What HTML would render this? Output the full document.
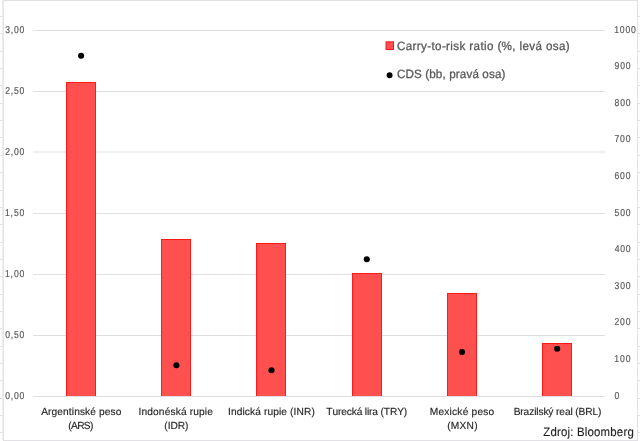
<!DOCTYPE html>
<html><head><meta charset="utf-8"><title>Carry-to-risk ratio</title>
<style>html,body{margin:0;padding:0;background:#fff;width:640px;height:441px;overflow:hidden}svg{display:block;will-change:transform;text-rendering:geometricPrecision}</style>
</head><body>
<svg width="640" height="441" viewBox="0 0 640 441">
<rect width="640" height="441" fill="#fff"/>
<rect x="0" y="16" width="2" height="1" fill="#e2dfe5"/>
<rect x="638" y="16" width="2" height="1" fill="#e2dfe5"/>
<rect x="0" y="33" width="2" height="1" fill="#e2dfe5"/>
<rect x="638" y="33" width="2" height="1" fill="#e2dfe5"/>
<rect x="0" y="51" width="2" height="1" fill="#e2dfe5"/>
<rect x="638" y="51" width="2" height="1" fill="#e2dfe5"/>
<rect x="0" y="68" width="2" height="1" fill="#e2dfe5"/>
<rect x="638" y="68" width="2" height="1" fill="#e2dfe5"/>
<rect x="0" y="85" width="2" height="1" fill="#e2dfe5"/>
<rect x="638" y="85" width="2" height="1" fill="#e2dfe5"/>
<rect x="0" y="103" width="2" height="1" fill="#e2dfe5"/>
<rect x="638" y="103" width="2" height="1" fill="#e2dfe5"/>
<rect x="0" y="120" width="2" height="1" fill="#e2dfe5"/>
<rect x="638" y="120" width="2" height="1" fill="#e2dfe5"/>
<rect x="0" y="137" width="2" height="1" fill="#e2dfe5"/>
<rect x="638" y="137" width="2" height="1" fill="#e2dfe5"/>
<rect x="0" y="155" width="2" height="1" fill="#e2dfe5"/>
<rect x="638" y="155" width="2" height="1" fill="#e2dfe5"/>
<rect x="0" y="172" width="2" height="1" fill="#e2dfe5"/>
<rect x="638" y="172" width="2" height="1" fill="#e2dfe5"/>
<rect x="0" y="190" width="2" height="1" fill="#e2dfe5"/>
<rect x="638" y="190" width="2" height="1" fill="#e2dfe5"/>
<rect x="0" y="207" width="2" height="1" fill="#e2dfe5"/>
<rect x="638" y="207" width="2" height="1" fill="#e2dfe5"/>
<rect x="0" y="224" width="2" height="1" fill="#e2dfe5"/>
<rect x="638" y="224" width="2" height="1" fill="#e2dfe5"/>
<rect x="0" y="242" width="2" height="1" fill="#e2dfe5"/>
<rect x="638" y="242" width="2" height="1" fill="#e2dfe5"/>
<rect x="0" y="259" width="2" height="1" fill="#e2dfe5"/>
<rect x="638" y="259" width="2" height="1" fill="#e2dfe5"/>
<rect x="0" y="276" width="2" height="1" fill="#e2dfe5"/>
<rect x="638" y="276" width="2" height="1" fill="#e2dfe5"/>
<rect x="0" y="294" width="2" height="1" fill="#e2dfe5"/>
<rect x="638" y="294" width="2" height="1" fill="#e2dfe5"/>
<rect x="0" y="311" width="2" height="1" fill="#e2dfe5"/>
<rect x="638" y="311" width="2" height="1" fill="#e2dfe5"/>
<rect x="0" y="328" width="2" height="1" fill="#e2dfe5"/>
<rect x="638" y="328" width="2" height="1" fill="#e2dfe5"/>
<rect x="0" y="346" width="2" height="1" fill="#e2dfe5"/>
<rect x="638" y="346" width="2" height="1" fill="#e2dfe5"/>
<rect x="0" y="363" width="2" height="1" fill="#e2dfe5"/>
<rect x="638" y="363" width="2" height="1" fill="#e2dfe5"/>
<rect x="0" y="380" width="2" height="1" fill="#e2dfe5"/>
<rect x="638" y="380" width="2" height="1" fill="#e2dfe5"/>
<rect x="0" y="398" width="2" height="1" fill="#e2dfe5"/>
<rect x="638" y="398" width="2" height="1" fill="#e2dfe5"/>
<rect x="0" y="415" width="2" height="1" fill="#e2dfe5"/>
<rect x="638" y="415" width="2" height="1" fill="#e2dfe5"/>
<rect x="0" y="432" width="2" height="1" fill="#e2dfe5"/>
<rect x="638" y="432" width="2" height="1" fill="#e2dfe5"/>
<rect x="3" y="0" width="635" height="1" fill="#e2dfe5"/>
<rect x="3" y="440" width="635" height="1" fill="#e2dfe5"/>
<rect x="2" y="0" width="1" height="440" fill="#eeebf0"/>
<rect x="3" y="0" width="1" height="440" fill="#e6e5e8"/>
<rect x="637" y="0" width="1" height="440" fill="#e2dfe5"/>
<rect x="33" y="30" width="572" height="1" fill="#e0dde3"/>
<rect x="33" y="91" width="572" height="1" fill="#e0dde3"/>
<rect x="33" y="151.5" width="572" height="1" fill="#e0dde3"/>
<rect x="33" y="213" width="572" height="1" fill="#e0dde3"/>
<rect x="33" y="274" width="572" height="1" fill="#e0dde3"/>
<rect x="33" y="335" width="572" height="1" fill="#e0dde3"/>
<rect x="33" y="396" width="572" height="1" fill="#e0dde3"/>
<rect x="66" y="82" width="30" height="314" fill="#ff1a1a"/>
<rect x="67" y="83" width="28" height="313" fill="#ff5050"/>
<rect x="161" y="239" width="30" height="157" fill="#ff1a1a"/>
<rect x="162" y="240" width="28" height="156" fill="#ff5050"/>
<rect x="256" y="243" width="30" height="153" fill="#ff1a1a"/>
<rect x="257" y="244" width="28" height="152" fill="#ff5050"/>
<rect x="352" y="273" width="30" height="123" fill="#ff1a1a"/>
<rect x="353" y="274" width="28" height="122" fill="#ff5050"/>
<rect x="447" y="293" width="30" height="103" fill="#ff1a1a"/>
<rect x="448" y="294" width="28" height="102" fill="#ff5050"/>
<rect x="542" y="343" width="30" height="53" fill="#ff1a1a"/>
<rect x="543" y="344" width="28" height="52" fill="#ff5050"/>
<circle cx="81.1" cy="55.8" r="3.05" fill="#000"/>
<circle cx="176.4" cy="365.2" r="3.05" fill="#000"/>
<circle cx="271.5" cy="370.3" r="3.05" fill="#000"/>
<circle cx="366.8" cy="259.3" r="3.05" fill="#000"/>
<circle cx="462.1" cy="352.0" r="3.05" fill="#000"/>
<circle cx="557.2" cy="348.7" r="3.05" fill="#000"/>
<text x="6.13 12.59 16.27 22.74" y="32.70" font-family="Liberation Sans, sans-serif" font-size="10.0" fill="#595959" stroke="#595959" stroke-width="0.2" transform="scale(0.86,1)">3,00</text>
<text x="6.01 12.51 16.23 22.74" y="93.70" font-family="Liberation Sans, sans-serif" font-size="10.0" fill="#595959" stroke="#595959" stroke-width="0.2" transform="scale(0.86,1)">2,50</text>
<text x="6.01 12.51 16.23 22.74" y="154.70" font-family="Liberation Sans, sans-serif" font-size="10.0" fill="#595959" stroke="#595959" stroke-width="0.2" transform="scale(0.86,1)">2,00</text>
<text x="5.75 12.34 16.15 22.74" y="215.70" font-family="Liberation Sans, sans-serif" font-size="10.0" fill="#595959" stroke="#595959" stroke-width="0.2" transform="scale(0.86,1)">1,50</text>
<text x="5.75 12.34 16.15 22.74" y="276.70" font-family="Liberation Sans, sans-serif" font-size="10.0" fill="#595959" stroke="#595959" stroke-width="0.2" transform="scale(0.86,1)">1,00</text>
<text x="6.12 12.59 16.27 22.74" y="337.70" font-family="Liberation Sans, sans-serif" font-size="10.0" fill="#595959" stroke="#595959" stroke-width="0.2" transform="scale(0.86,1)">0,50</text>
<text x="6.12 12.59 16.27 22.74" y="398.70" font-family="Liberation Sans, sans-serif" font-size="10.0" fill="#595959" stroke="#595959" stroke-width="0.2" transform="scale(0.86,1)">0,00</text>
<text x="714.24 720.75 727.27 733.78" y="32.60" font-family="Liberation Sans, sans-serif" font-size="10.0" fill="#595959" stroke="#595959" stroke-width="0.2" transform="scale(0.86,1)">1000</text>
<text x="714.53 721.08 727.62" y="69.20" font-family="Liberation Sans, sans-serif" font-size="10.0" fill="#595959" stroke="#595959" stroke-width="0.2" transform="scale(0.86,1)">900</text>
<text x="714.57 721.09 727.62" y="105.80" font-family="Liberation Sans, sans-serif" font-size="10.0" fill="#595959" stroke="#595959" stroke-width="0.2" transform="scale(0.86,1)">800</text>
<text x="714.49 721.05 727.62" y="142.40" font-family="Liberation Sans, sans-serif" font-size="10.0" fill="#595959" stroke="#595959" stroke-width="0.2" transform="scale(0.86,1)">700</text>
<text x="714.49 721.06 727.62" y="179.00" font-family="Liberation Sans, sans-serif" font-size="10.0" fill="#595959" stroke="#595959" stroke-width="0.2" transform="scale(0.86,1)">600</text>
<text x="714.60 721.11 727.62" y="215.60" font-family="Liberation Sans, sans-serif" font-size="10.0" fill="#595959" stroke="#595959" stroke-width="0.2" transform="scale(0.86,1)">500</text>
<text x="714.77 721.20 727.62" y="252.20" font-family="Liberation Sans, sans-serif" font-size="10.0" fill="#595959" stroke="#595959" stroke-width="0.2" transform="scale(0.86,1)">400</text>
<text x="714.62 721.12 727.62" y="288.80" font-family="Liberation Sans, sans-serif" font-size="10.0" fill="#595959" stroke="#595959" stroke-width="0.2" transform="scale(0.86,1)">300</text>
<text x="714.50 721.06 727.62" y="325.40" font-family="Liberation Sans, sans-serif" font-size="10.0" fill="#595959" stroke="#595959" stroke-width="0.2" transform="scale(0.86,1)">200</text>
<text x="714.24 720.93 727.62" y="362.00" font-family="Liberation Sans, sans-serif" font-size="10.0" fill="#595959" stroke="#595959" stroke-width="0.2" transform="scale(0.86,1)">100</text>
<text x="714.61" y="398.60" font-family="Liberation Sans, sans-serif" font-size="10.0" fill="#595959" stroke="#595959" stroke-width="0.2" transform="scale(0.86,1)">0</text>
<text x="41.60 48.56 52.09 57.91 63.73 69.55 72.51 74.89 80.72 85.96 91.21 97.03 99.99 105.81 111.63 116.88" y="415.20" font-family="Liberation Sans, sans-serif" font-size="10.3" fill="#262626" stroke="#262626" stroke-width="0.15" transform="scale(0.99,1)">Argentinské peso</text>
<text x="68.96 71.73 77.95 84.73 90.95" y="429.00" font-family="Liberation Sans, sans-serif" font-size="10.3" fill="#262626" stroke="#262626" stroke-width="0.15" transform="scale(0.99,1)">(ARS)</text>
<text x="139.86 142.86 148.73 154.59 160.46 166.33 172.20 177.49 182.78 188.64 191.64 195.21 201.08 206.95 209.38" y="415.20" font-family="Liberation Sans, sans-serif" font-size="10.3" fill="#262626" stroke="#262626" stroke-width="0.15" transform="scale(0.99,1)">Indonéská rupie</text>
<text x="166.03 169.39 172.17 179.54 186.91" y="429.00" font-family="Liberation Sans, sans-serif" font-size="10.3" fill="#262626" stroke="#262626" stroke-width="0.15" transform="scale(0.99,1)">(IDR)</text>
<text x="230.26 233.23 239.06 244.90 247.29 252.54 257.80 263.63 266.60 270.13 275.97 281.80 284.19 290.03 292.99 296.53 299.50 307.04 314.58" y="415.20" font-family="Liberation Sans, sans-serif" font-size="10.3" fill="#262626" stroke="#262626" stroke-width="0.15" transform="scale(0.99,1)">Indická rupie (INR)</text>
<text x="329.62 335.77 341.36 344.64 350.23 355.24 360.25 365.84 368.56 370.71 372.85 376.14 381.73 384.45 387.74 393.89 401.19 407.92" y="415.20" font-family="Liberation Sans, sans-serif" font-size="10.3" fill="#262626" stroke="#262626" stroke-width="0.15" transform="scale(0.99,1)">Turecká lira (TRY)</text>
<text x="434.10 442.88 448.80 454.15 456.63 461.98 467.32 473.24 476.30 482.22 488.15 493.49" y="415.20" font-family="Liberation Sans, sans-serif" font-size="10.3" fill="#262626" stroke="#262626" stroke-width="0.15" transform="scale(0.99,1)">Mexické peso</text>
<text x="451.68 455.35 464.16 471.26 478.93" y="429.00" font-family="Liberation Sans, sans-serif" font-size="10.3" fill="#262626" stroke="#262626" stroke-width="0.15" transform="scale(0.99,1)">(MXN)</text>
<text x="518.85 525.60 528.91 534.51 539.54 541.70 543.87 548.89 553.92 558.95 561.68 564.99 570.60 576.20 578.37 581.10 584.41 591.16 598.47 604.08" y="415.20" font-family="Liberation Sans, sans-serif" font-size="10.3" fill="#262626" stroke="#262626" stroke-width="0.15" transform="scale(0.99,1)">Brazilský real (BRL)</text>
<rect x="385.5" y="41.3" width="8.5" height="8.7" fill="#ff1a1a"/>
<rect x="386.5" y="42.3" width="6.5" height="6.7" fill="#ff5050"/>
<circle cx="389.6" cy="75.3" r="2.95" fill="#000"/>
<text x="409.18 418.23 425.28 429.66 434.03 440.41 444.79 448.50 455.55 459.93 464.30 467.35 473.73 480.10 483.82 488.19 495.25 498.96 502.00 509.06 512.77 517.14 528.19 531.91 535.62 538.66 545.72 552.10 559.15 562.86 569.91 576.29 583.35" y="50.20" font-family="Liberation Sans, sans-serif" font-size="12.0" fill="#595959" stroke="#595959" stroke-width="0.3" transform="scale(0.97,1)">Carry-to-risk ratio (%, levá osa)</text>
<text x="409.18 417.99 426.79 434.94 438.41 442.54 449.35 456.17 459.64 463.11 469.92 474.06 480.87 487.01 493.82 497.29 504.11 510.25 517.06" y="77.50" font-family="Liberation Sans, sans-serif" font-size="12.0" fill="#595959" stroke="#595959" stroke-width="0.3" transform="scale(0.97,1)">CDS (bb, pravá osa)</text>
<text x="590.48 598.27 605.38 609.73 616.84 619.81 623.48 627.14 635.63 638.60 645.71 652.83 663.37 670.49 677.60 681.95" y="436.20" font-family="Liberation Sans, sans-serif" font-size="12.4" fill="#1f1f1f" stroke="#1f1f1f" stroke-width="0.15" transform="scale(0.92,1)">Zdroj: Bloomberg</text>
</svg>
</body></html>
